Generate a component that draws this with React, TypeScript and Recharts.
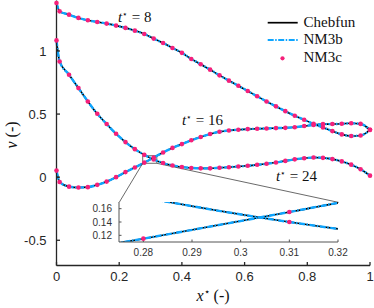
import { LineChart, Line, XAxis, YAxis, ReferenceArea, ReferenceLine, ReferenceDot } from 'recharts'

// sample positions along x* (same for every time level)
const xs = [
  0, 0.01, 0.04, 0.07, 0.1, 0.13, 0.16, 0.19, 0.22, 0.25, 0.28, 0.31, 0.34, 0.37, 0.4, 0.43, 0.46, 0.49,
  0.52, 0.55, 0.58, 0.61, 0.64, 0.67, 0.7, 0.73, 0.76, 0.79, 0.82, 0.85, 0.88, 0.91, 0.94, 0.97, 1,
]
const v8 = [
  1.38, 1.314, 1.288, 1.262, 1.243, 1.23, 1.217, 1.201, 1.183, 1.161, 1.135, 1.098, 1.063, 1.024, 0.985,
  0.937, 0.895, 0.852, 0.807, 0.765, 0.724, 0.683, 0.641, 0.6, 0.561, 0.523, 0.487, 0.455, 0.422, 0.394,
  0.365, 0.339, 0.326, 0.33, 0.375,
]
const v16 = [
  0.052, -0.038, -0.075, -0.082, -0.079, -0.061, -0.035, 0.0, 0.04, 0.077, 0.115, 0.155, 0.196, 0.232,
  0.262, 0.292, 0.318, 0.342, 0.36, 0.37, 0.376, 0.381, 0.384, 0.386, 0.389, 0.391, 0.396, 0.405, 0.414,
  0.42, 0.421, 0.423, 0.427, 0.422, 0.375,
]
const v24 = [
  1.084, 0.917, 0.812, 0.706, 0.6, 0.502, 0.421, 0.344, 0.278, 0.222, 0.177, 0.14, 0.112, 0.093, 0.08,
  0.073, 0.07, 0.07, 0.075, 0.079, 0.084, 0.09, 0.098, 0.106, 0.116, 0.129, 0.141, 0.15, 0.156, 0.153,
  0.143, 0.125, 0.099, 0.063, 0.012,
]

const xTicks = [0, 0.2, 0.4, 0.6, 0.8, 1]
const yTicks = [-0.5, 0, 0.5, 1]
const insetXTicks = [0.28, 0.29, 0.3, 0.31, 0.32]
const insetYTicks = [0.12, 0.14, 0.16]

const timeLabels = [
  { t: '8', x: 0.196, y: 1.23 },
  { t: '16', x: 0.4, y: 0.414 },
  { t: '24', x: 0.7, y: -0.03 },
]

const data = xs.map((x, i) => ({ x, t8: v8[i], t16: v16[i], t24: v24[i] }))

const SANS = '"Liberation Sans", Arial, sans-serif'
const SERIF = '"Liberation Serif", "DejaVu Serif", serif'
const AXIS = '#262626'
const CYAN = '#0ea5ff'
const PINK = '#f5207a'
const DASH = '6 1.5 1.5 1.5'

const fmt = (v: number) => String(+v.toFixed(2))

function curves(keys: string[]) {
  return [
    ...keys.map(k => (
      <Line key={'b' + k} dataKey={k} type="monotone" stroke="#000" strokeWidth={1.6} dot={false} isAnimationActive={false} />
    )),
    ...keys.map(k => (
      <Line
        key={'c' + k}
        dataKey={k}
        type="monotone"
        stroke={CYAN}
        strokeWidth={2.4}
        strokeDasharray={DASH}
        dot={false}
        isAnimationActive={false}
      />
    )),
    ...keys.map(k => (
      <Line
        key={'d' + k}
        dataKey={k}
        type="monotone"
        stroke="none"
        dot={{ r: 2.3, fill: PINK, stroke: 'none' }}
        isAnimationActive={false}
      />
    )),
  ]
}

const timeLabel = (t: string) => (props: any) => {
  const vb = props.viewBox || {}
  return (
    <text x={vb.x} y={vb.y} fontFamily={SERIF} fontSize={15} fill="#111">
      <tspan fontStyle="italic">t</tspan>
      <tspan dy={-5} fontSize={9}>⋆</tspan>
      <tspan dy={5}> = {t}</tspan>
    </text>
  )
}

export default function App() {
  return (
    <div style={{ position: 'absolute', left: 0, top: 0, width: 374, height: 308, background: '#fff' }}>
      <LineChart width={374} height={308} data={data} margin={{ top: 0.5, right: 4, bottom: 12.5, left: 0 }}>
        <XAxis
          dataKey="x"
          type="number"
          domain={[0, 1]}
          ticks={xTicks}
          interval={0}
          tickFormatter={fmt}
          height={30}
          tickSize={-3.5}
          tickMargin={10}
          stroke={AXIS}
          strokeWidth={1.3}
          tick={{ fontSize: 13, fill: AXIS, fontFamily: SANS }}
        />
        <XAxis
          xAxisId="top"
          orientation="top"
          type="number"
          domain={[0, 1]}
          allowDataOverflow
          ticks={xTicks}
          height={0}
          tickSize={-3.5}
          tick={false}
          axisLine={false}
          stroke={AXIS}
          strokeWidth={1.3}
        />
        <YAxis
          type="number"
          domain={[-0.7, 1.4]}
          ticks={yTicks}
          interval={0}
          width={56.5}
          tickSize={-3.5}
          tickMargin={13.5}
          stroke={AXIS}
          strokeWidth={1.3}
          tick={{ fontSize: 13, fill: AXIS, fontFamily: SANS }}
        />
        <YAxis
          yAxisId="right"
          orientation="right"
          type="number"
          domain={[-0.7, 1.4]}
          allowDataOverflow
          ticks={yTicks}
          width={0}
          tickSize={-3.5}
          tick={false}
          stroke={AXIS}
          strokeWidth={1.3}
        />
        {curves(['t8', 't16', 't24'])}
        <ReferenceArea x1={0.275} x2={0.32} y1={0.11} y2={0.17} fill="none" stroke="#444" strokeWidth={0.8} ifOverflow="visible" />
        <ReferenceLine segment={[{ x: 0.275, y: 0.11 }, { x: 0.2, y: -0.2 }]} stroke="#444" strokeWidth={0.8} ifOverflow="visible" />
        <ReferenceLine segment={[{ x: 0.32, y: 0.11 }, { x: 0.9, y: -0.2 }]} stroke="#444" strokeWidth={0.8} ifOverflow="visible" />
        {timeLabels.map(l => (
          <ReferenceDot key={l.t} x={l.x} y={l.y} r={0} fill="none" stroke="none" label={timeLabel(l.t)} />
        ))}
      </LineChart>

      {/* zoomed inset around the crossing */}
      <div style={{ position: 'absolute', left: 79, top: 199, width: 275, height: 60 }}>
        <div style={{ position: 'absolute', left: 40, top: 3, width: 219, height: 40, background: '#fff' }} />
        <LineChart width={275} height={60} data={data} margin={{ top: 3, right: 16, bottom: 0, left: 0 }}>
          <XAxis
            dataKey="x"
            type="number"
            domain={[0.275, 0.32]}
            allowDataOverflow
            ticks={insetXTicks}
            interval={0}
            tickFormatter={fmt}
            height={17}
            tickSize={-2.5}
            tickMargin={9.5}
            stroke="#555"
            tick={{ fontSize: 10, fill: '#333', fontFamily: SANS }}
          />
          <XAxis
            xAxisId="top"
            orientation="top"
            type="number"
            domain={[0.275, 0.32]}
            allowDataOverflow
            ticks={insetXTicks}
            height={0}
            tickSize={-2.5}
            tick={false}
            stroke="#555"
          />
          <YAxis
            type="number"
            domain={[0.11, 0.17]}
            allowDataOverflow
            ticks={insetYTicks}
            interval={0}
            tickFormatter={fmt}
            width={40}
            tickSize={-2.5}
            tickMargin={9.5}
            stroke="#555"
            tick={{ fontSize: 10, fill: '#333', fontFamily: SANS }}
          />
          <YAxis
            yAxisId="right"
            orientation="right"
            type="number"
            domain={[0.11, 0.17]}
            allowDataOverflow
            ticks={insetYTicks}
            width={0}
            tickSize={-2.5}
            tick={false}
            stroke="#555"
          />
          {curves(['t16', 't24'])}
        </LineChart>
      </div>

      {/* axis titles and legend */}
      <svg width={374} height={308} style={{ position: 'absolute', left: 0, top: 0, pointerEvents: 'none' }}>
        <text transform="translate(17,135) rotate(-90)" textAnchor="middle" fontFamily={SERIF} fontSize={16} fill="#111">
          <tspan fontStyle="italic">v</tspan> (-)
        </text>
        <text x={213} y={301} textAnchor="middle" fontFamily={SERIF} fontSize={16} fill="#111">
          <tspan fontStyle="italic">x</tspan>
          <tspan dy={-6} fontSize={10}>⋆</tspan>
          <tspan dy={6}> (-)</tspan>
        </text>
        <line x1={267.7} x2={297.7} y1={22.7} y2={22.7} stroke="#000" strokeWidth={1.7} />
        <line x1={267.7} x2={297.7} y1={40} y2={40} stroke={CYAN} strokeWidth={2} strokeDasharray={DASH} />
        <circle cx={282.5} cy={58.3} r={2.1} fill={PINK} />
        <text x={303.5} y={26.7} fontFamily={SERIF} fontSize={15} fill="#111">Chebfun</text>
        <text x={303.5} y={44} fontFamily={SERIF} fontSize={15} fill="#111">NM3b</text>
        <text x={303.5} y={62.3} fontFamily={SERIF} fontSize={15} fill="#111">NM3c</text>
      </svg>
    </div>
  )
}
